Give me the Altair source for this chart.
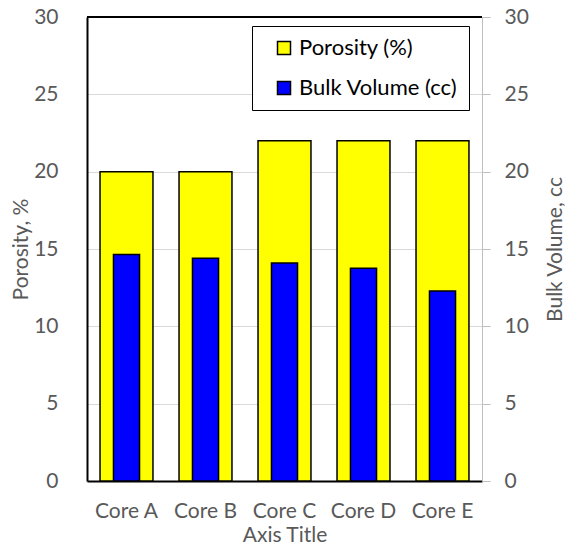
import altair as alt
import pandas as pd

cores = ["Core A", "Core B", "Core C", "Core D", "Core E"]
porosity = [20, 20, 22, 22, 22]
bulk_volume = [14.65, 14.41, 14.09, 13.75, 12.28]
series_names = ["Porosity (%)", "Bulk Volume (cc)"]
series_colors = ["#FFFF00", "#0000FF"]
y_ticks = [0, 5, 10, 15, 20, 25, 30]

df = pd.DataFrame({
    "core": cores,
    "porosity": porosity,
    "bulk": bulk_volume,
    "s1": series_names[0],
    "s2": series_names[1],
})

FONT = "Lato"
GRAY = "#595959"

x_enc = alt.X(
    "core:N",
    sort=cores,
    scale=alt.Scale(paddingInner=0, paddingOuter=0),
    axis=alt.Axis(
        title="Axis Title", labelAngle=0, ticks=False, labelPadding=19,
        domainColor="black", domainWidth=2, titlePadding=3,
        labelFontSize=21, titleFontSize=21, labelColor=GRAY, titleColor=GRAY,
        labelFont=FONT, titleFont=FONT, titleFontWeight="normal",
    ),
)

color_scale = alt.Scale(domain=series_names, range=series_colors)
legend = alt.Legend(
    title=None, orient="none", legendX=165, legendY=9,
    fillColor="white", strokeColor="black", padding=11,
    symbolType="square", symbolSize=169, symbolStrokeColor="black",
    symbolStrokeWidth=1.5, labelFontSize=22, labelColor="black",
    labelFont=FONT, rowPadding=18, symbolOffset=10, labelOffset=4,
)

left = alt.Chart(df).mark_bar(
    stroke="black", strokeWidth=1.5, width=alt.RelativeBandSize(0.67)
).encode(
    x=x_enc,
    y=alt.Y(
        "porosity:Q",
        scale=alt.Scale(domain=[0, 30]),
        axis=alt.Axis(
            title="Porosity, %", values=y_ticks, ticks=False, labelPadding=29,
            domainColor="black", domainWidth=2, gridColor="#d9d9d9", gridWidth=1,
            labelFontSize=21, titleFontSize=21, labelColor=GRAY, titleColor=GRAY,
            labelFont=FONT, titleFont=FONT, titleFontWeight="normal", titlePadding=2,
        ),
    ),
    color=alt.Color("s1:N", scale=color_scale, legend=legend),
)

right = alt.Chart(df).mark_bar(
    stroke="black", strokeWidth=1.5, width=alt.RelativeBandSize(0.33)
).encode(
    x=x_enc,
    y=alt.Y(
        "bulk:Q",
        scale=alt.Scale(domain=[0, 30]),
        axis=alt.Axis(
            orient="right", title="Bulk Volume, cc", values=y_ticks, grid=False,
            ticks=True, tickSize=8, tickColor="#bfbfbf", domainColor="#bfbfbf",
            domainWidth=1, labelPadding=14,
            labelFontSize=21, titleFontSize=21, labelColor=GRAY, titleColor=GRAY,
            labelFont=FONT, titleFont=FONT, titleFontWeight="normal",
            titleAngle=270, titleBaseline="top", titlePadding=16,
        ),
    ),
    color=alt.Color("s2:N", scale=color_scale, legend=legend),
)

top_border = alt.Chart(pd.DataFrame({"v": [0]})).mark_rule(
    color="black", strokeWidth=2
).encode(y=alt.value(0))

chart = alt.layer(left, right, top_border).resolve_scale(y="independent").properties(
    width=395, height=464,
    autosize=alt.AutoSizeParams(type="none"),
    padding={"left": 87, "top": 17, "right": 83, "bottom": 65},
).configure_view(stroke=None).configure(background="white")

chart.save("out.html", embed_options={"renderer": "svg", "actions": False})
